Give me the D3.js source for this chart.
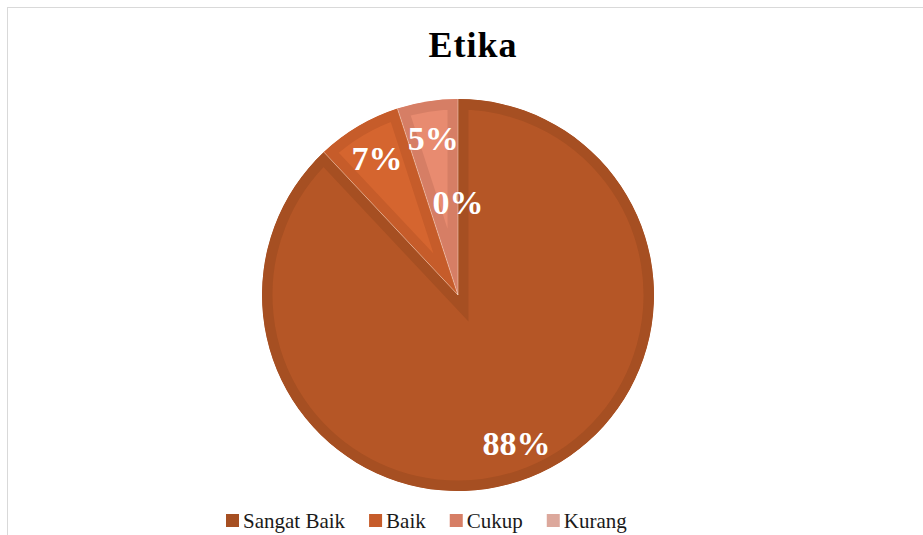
<!DOCTYPE html>
<html>
<head>
<meta charset="utf-8">
<script src="https://cdn.jsdelivr.net/npm/d3@7"></script>
<style>
  html, body { margin: 0; padding: 0; background: #fff; }
  svg { display: block; }
  .serif { font-family: "Liberation Serif", "Times New Roman", Tinos, "Noto Serif", "DejaVu Serif", serif; font-weight: bold; }
</style>
</head>
<body>
<svg id="chart" width="923" height="535"></svg>
<script>
const categories = ["Sangat Baik", "Baik", "Cukup", "Kurang"];
const values = [88, 7, 5, 0];
const labels = ["88%", "7%", "5%", "0%"];
const fillColors = ["#B55626", "#D5652F", "#E88B70", "#E3B0A5"];
const borderColors = ["#A64F22", "#C65C2A", "#D67E65", "#DCA89C"];
const title = "Etika";

const svg = d3.select("#chart");
const W = 923, H = 535;
const cx = 458, cy = 295, R = 196, border = 10.5;

svg.append("rect")
  .attr("x", 7.5).attr("y", 7.5)
  .attr("width", W + 10).attr("height", H + 10)
  .attr("fill", "none").attr("stroke", "#D9D9D9").attr("stroke-width", 1);

svg.append("text")
  .attr("class", "serif")
  .attr("x", 473).attr("y", 57)
  .attr("text-anchor", "middle")
  .style("font-size", "36px")
  .attr("letter-spacing", 1)
  .attr("fill", "#000")
  .text(title);

const data = categories.map((c, i) => ({ cat: c, value: values[i], label: labels[i], i }));
const pie = d3.pie().value(d => d.value).sort(null);
const arcs = pie(data);
const arc = d3.arc().innerRadius(0).outerRadius(R);
const drawn = arcs.filter(a => a.endAngle > a.startAngle);

const defs = svg.append("defs");
drawn.forEach(a => {
  defs.append("clipPath").attr("id", "clip" + a.index)
    .append("path").attr("d", arc(a))
    .attr("transform", `translate(${cx},${cy})`);
});

const gAbs = svg.append("g");
drawn.forEach(a => {
  gAbs.append("g").attr("clip-path", `url(#clip${a.index})`)
    .append("path")
    .attr("transform", `translate(${cx},${cy})`)
    .attr("d", arc(a))
    .attr("fill", fillColors[a.data.i])
    .attr("stroke", borderColors[a.data.i])
    .attr("stroke-width", border * 2)
    .attr("stroke-linejoin", "miter")
    .attr("stroke-miterlimit", 4);
});

gAbs.selectAll("line.sep")
  .data(drawn.map(a => a.startAngle))
  .join("line")
  .attr("x1", cx).attr("y1", cy)
  .attr("x2", d => cx + R * Math.sin(d))
  .attr("y2", d => cy - R * Math.cos(d))
  .attr("stroke", "rgba(255,235,220,0.45)")
  .attr("stroke-width", 1);

const labelR = 159;
svg.append("g").selectAll("text")
  .data(arcs)
  .join("text")
  .attr("class", "serif")
  .attr("x", d => {
    const m = (d.startAngle + d.endAngle) / 2;
    const r = d.data.value === 0 ? 93 : labelR;
    return cx + r * Math.sin(m);
  })
  .attr("y", d => {
    const m = (d.startAngle + d.endAngle) / 2;
    const r = d.data.value === 0 ? 93 : labelR;
    return cy - r * Math.cos(m) + 12;
  })
  .attr("text-anchor", "middle")
  .style("font-size", "34px")
  .attr("fill", "#fff")
  .text(d => d.data.label);

const legend = svg.append("g");
let lx = 226;
const ly = 521;
categories.forEach((c, i) => {
  legend.append("rect")
    .attr("x", lx).attr("y", ly - 7)
    .attr("width", 13).attr("height", 13)
    .attr("fill", borderColors[i]);
  const t = legend.append("text")
    .attr("class", "serif")
    .attr("x", lx + 17).attr("y", ly + 7)
    .style("font-size", "21px")
    .style("font-weight", "normal")
    .attr("fill", "#1a1a1a")
    .text(c);
  lx += 17 + t.node().getComputedTextLength() + 24;
});
</script>
</body>
</html>
